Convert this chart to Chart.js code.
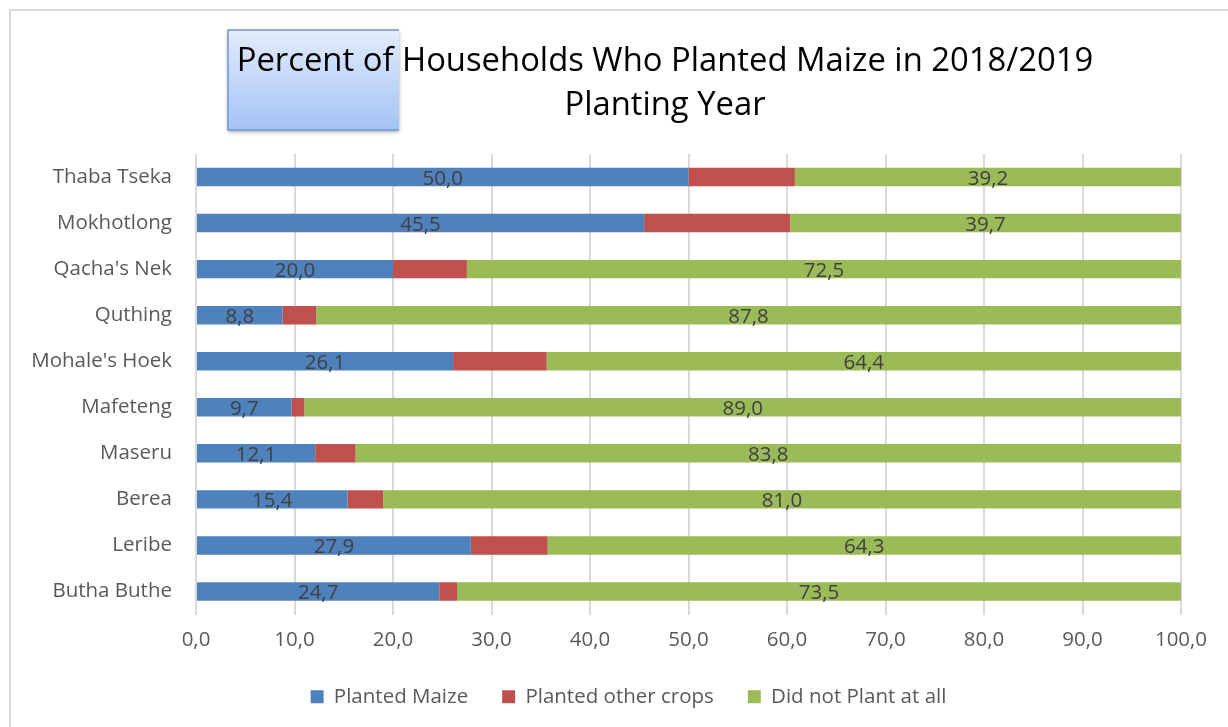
<!DOCTYPE html>
<html>
<head>
<meta charset="utf-8">
<script src="https://cdn.jsdelivr.net/npm/chart.js@4/dist/chart.umd.min.js"></script>
<style>
  html, body { margin: 0; padding: 0; background: #ffffff; }
  #wrap { width: 1228px; height: 727px; position: relative; }
</style>
</head>
<body>
<div id="wrap"><canvas id="chart" width="1228" height="727"></canvas></div>
<script>
// Districts, top to bottom
const districts = ["Thaba Tseka", "Mokhotlong", "Qacha's Nek", "Quthing", "Mohale's Hoek",
                   "Mafeteng", "Maseru", "Berea", "Leribe", "Butha Buthe"];
// Percent of households in each group
const plantedMaize = [50.0, 45.5, 20.0, 8.8, 26.1, 9.7, 12.1, 15.4, 27.9, 24.7];
const plantedOther = [10.8, 14.8, 7.5, 3.4, 9.5, 1.3, 4.1, 3.6, 7.8, 1.8];
const didNotPlant  = [39.2, 39.7, 72.5, 87.8, 64.4, 89.0, 83.8, 81.0, 64.3, 73.5];
const seriesNames  = ["Planted Maize", "Planted other crops", "Did not Plant at all"];
const titleLines   = ["Percent of Households Who Planted Maize in 2018/2019", "Planting Year"];

const FONT = "'Open Sans', Lato, sans-serif";
const fmt = v => v.toFixed(1).replace('.', ',');

// Frame, title badge, title text and value labels
const decorPlugin = {
  id: 'decor',
  afterLayout(chart) {
    // centre the legend row under the whole frame rather than the padded area
    if (chart.legend) {
      chart.legend.left += 33;
      chart.legend.right += 33;
    }
  },
  beforeDraw(chart) {
    const ctx = chart.ctx;
    ctx.save();
    // outer frame (top and left edges)
    ctx.strokeStyle = '#d9d9d9';
    ctx.lineWidth = 2;
    ctx.beginPath();
    ctx.moveTo(10, 728);
    ctx.lineTo(10, 10);
    ctx.lineTo(1228, 10);
    ctx.stroke();

    // gradient badge behind the start of the title
    const bx = 228, by = 30, bw = 171, bh = 100;
    ctx.shadowColor = 'rgba(0,0,0,0.35)';
    ctx.shadowBlur = 4;
    ctx.shadowOffsetY = 2;
    const g = ctx.createLinearGradient(0, by, 0, by + bh);
    g.addColorStop(0, '#e2ecfc');
    g.addColorStop(1, '#a4c3f4');
    ctx.fillStyle = g;
    ctx.fillRect(bx, by, bw, bh);
    ctx.shadowColor = 'transparent';
    ctx.strokeStyle = '#6f98d2';
    ctx.lineWidth = 1.5;
    ctx.beginPath();
    ctx.moveTo(bx + bw, by);
    ctx.lineTo(bx, by);
    ctx.lineTo(bx, by + bh);
    ctx.lineTo(bx + bw, by + bh);
    ctx.stroke();
    ctx.restore();

    // title
    ctx.save();
    ctx.fillStyle = '#000000';
    ctx.font = '32.8px ' + FONT;
    ctx.textAlign = 'center';
    ctx.textBaseline = 'middle';
    ctx.fillText(titleLines[0], 665, 62);
    ctx.fillText(titleLines[1], 665, 106);
    ctx.restore();
  },
  afterDatasetsDraw(chart) {
    // value labels centred in the maize and "did not plant" segments
    const ctx = chart.ctx;
    ctx.save();
    ctx.fillStyle = '#404040';
    ctx.font = '20.5px ' + FONT;
    ctx.textAlign = 'center';
    ctx.textBaseline = 'middle';
    [0, 2].forEach(di => {
      const meta = chart.getDatasetMeta(di);
      const data = chart.data.datasets[di].data;
      meta.data.forEach((bar, i) => {
        const cx = (bar.x + bar.base) / 2;
        ctx.fillText(fmt(data[i]), cx, bar.y + 2);
      });
    });
    ctx.restore();
  }
};

new Chart(document.getElementById('chart'), {
  type: 'bar',
  data: {
    labels: districts,
    datasets: [
      { label: seriesNames[0], data: plantedMaize, backgroundColor: '#4f81bd' },
      { label: seriesNames[1], data: plantedOther, backgroundColor: '#c0504d' },
      { label: seriesNames[2], data: didNotPlant,  backgroundColor: '#9bbb59' }
    ]
  },
  options: {
    indexAxis: 'y',
    responsive: false,
    animation: false,
    maintainAspectRatio: false,
    datasets: { bar: { barPercentage: 0.4, categoryPercentage: 1.0, borderWidth: 0 } },
    layout: { padding: { top: 154, left: 10, right: 47, bottom: 10 } },
    scales: {
      x: {
        stacked: true,
        min: 0, max: 100,
        afterFit: s => { s.height = 38; },
        ticks: {
          stepSize: 10,
          color: '#595959',
          font: { family: FONT, size: 20.5 },
          padding: 13,
          callback: v => fmt(v)
        },
        grid: { color: '#d9d9d9', lineWidth: 2, drawTicks: false },
        border: { display: false }
      },
      y: {
        stacked: true,
        afterFit: s => { s.width = 186; },
        ticks: {
          color: '#595959',
          font: { family: FONT, size: 20.5 },
          padding: 24
        },
        grid: { display: false, drawTicks: false },
        border: { display: false }
      }
    },
    plugins: {
      title: { display: false },
      tooltip: { enabled: false },
      legend: {
        position: 'bottom',
        labels: {
          color: '#595959',
          font: { family: FONT, size: 20.5 },
          boxWidth: 13,
          boxHeight: 13,
          padding: 34
        }
      }
    }
  },
  plugins: [decorPlugin]
});
</script>
</body>
</html>
